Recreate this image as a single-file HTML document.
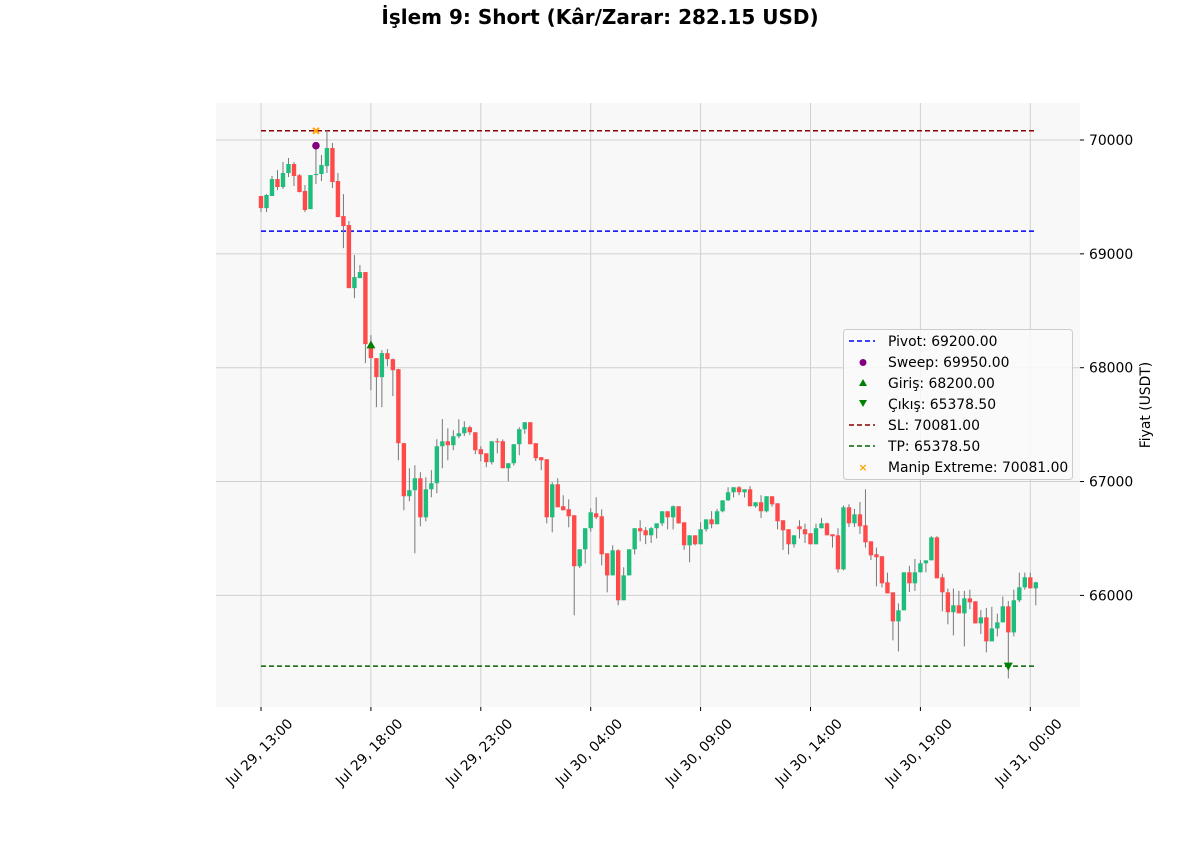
<!DOCTYPE html>
<html><head><meta charset="utf-8"><style>
html,body{margin:0;padding:0;background:#fff;}
svg{display:block;font-family:"DejaVu Sans","Liberation Sans",sans-serif;}
</style></head><body>
<svg id="chart" width="1200" height="862" xmlns="http://www.w3.org/2000/svg">
<text x="600" y="24" text-anchor="middle" font-size="20" font-weight="bold" fill="#000">İşlem 9: Short (Kâr/Zarar: 282.15 USD)</text>
<rect x="216" y="103" width="864" height="604" fill="#f8f8f8"/>
<g id="grid"></g><g id="levels"></g><g id="candles"></g><g id="markers"></g><g id="axes"></g>
<text transform="translate(1150,405) rotate(-90)" text-anchor="middle" font-size="13.9" fill="#000">Fiyat (USDT)</text>
<g>
<rect x="843.5" y="329.5" width="229" height="150" rx="3" fill="#fafafa" fill-opacity="0.85" stroke="#ccc"/>
<g font-size="13.9" fill="#000">
<line x1="849" y1="341" x2="875" y2="341" stroke="#0000ff" stroke-width="1.5" stroke-dasharray="5,3"/><text x="888" y="346">Pivot: 69200.00</text>
<circle cx="863" cy="362.5" r="3.5" fill="#800080"/><text x="888" y="367">Sweep: 69950.00</text>
<path d="M863,379 L867,386 L859,386 Z" fill="#008000"/><text x="888" y="388">Giriş: 68200.00</text>
<path d="M859,400 L867,400 L863,407 Z" fill="#008000"/><text x="888" y="409">Çıkış: 65378.50</text>
<line x1="849" y1="425" x2="875" y2="425" stroke="#8b0000" stroke-width="1.5" stroke-dasharray="5,3"/><text x="888" y="430">SL: 70081.00</text>
<line x1="849" y1="446" x2="875" y2="446" stroke="#006400" stroke-width="1.5" stroke-dasharray="5,3"/><text x="888" y="451">TP: 65378.50</text>
<text x="863" y="471" text-anchor="middle" font-size="11" fill="orange" font-weight="bold">×</text><text x="888" y="472">Manip Extreme: 70081.00</text>
</g></g>
</svg>
<script>
const opens=[69508,69402,69508,69657,69587,69710,69789,69690,69552,69393,69692,69701,69771,69930,69640,69332,69253,68699,68787,68840,68172,68084,67917,68128,68075,67987,67337,66871,66924,67029,66686,66932,66985,67310,67354,67319,67398,67424,67477,67433,67284,67248,67170,67354,67354,67117,67161,67328,67460,67521,67337,67214,67196,66686,66976,66783,66757,66704,66256,66405,66590,66721,66695,66370,66176,66396,65957,66176,66405,66590,66572,66528,66590,66633,66739,66686,66783,66642,66440,66528,66449,66581,66668,66625,66739,66835,66906,66950,66906,66932,66783,66818,66739,66871,66809,66660,66581,66449,66607,66581,66546,66449,66590,66633,66537,66528,66229,66774,66633,66712,66616,66475,66361,66344,66115,66027,65772,65869,66203,66106,66203,66282,66308,66510,66159,66027,65852,65913,65842,65974,65948,65754,65807,65596,65710,65763,65904,65675,65957,66071,66159,66062];
const closes=[69402,69517,69657,69587,69710,69789,69684,69543,69385,69692,69701,69780,69930,69631,69323,69244,68699,68796,68840,68207,68084,67917,68128,68075,67978,67337,66871,66924,67029,66686,66932,66985,67310,67354,67319,67398,67424,67477,67433,67275,67240,67170,67354,67345,67117,67161,67328,67460,67521,67328,67205,67187,66686,66976,66774,66748,66695,66256,66405,66590,66730,66686,66361,66176,66396,65957,66176,66405,66590,66563,66528,66590,66633,66739,66686,66783,66633,66440,66528,66449,66581,66668,66625,66739,66835,66906,66950,66906,66932,66783,66818,66739,66871,66800,66651,66572,66449,66528,66581,66537,66449,66590,66633,66528,66519,66229,66774,66633,66712,66607,66466,66352,66335,66106,66018,65772,65869,66203,66106,66203,66282,66308,66510,66150,66027,65852,65913,65842,65974,65939,65754,65807,65596,65710,65763,65904,65675,65957,66071,66159,66062,66115];
const highs=[69510,69525,69684,69736,69807,69842,69807,69700,69604,69692,69956,69868,70088,69974,69710,69525,69288,68989,68901,68840,68286,68084,68154,68163,68080,67990,67340,67117,67143,67082,67038,67100,67372,67548,67468,67451,67548,67530,67490,67433,67310,67248,67354,67380,67370,67161,67328,67477,67521,67521,67337,67214,67196,66994,67029,66880,66844,66704,66405,66590,66765,66862,66756,66370,66440,66405,66247,66405,66590,66660,66600,66600,66633,66739,66739,66790,66783,66642,66528,66528,66642,66668,66740,66760,66835,66950,66950,66960,66932,66960,66818,66880,66871,66871,66809,66660,66581,66528,66660,66630,66546,66630,66680,66640,66537,66590,66790,66800,66760,66820,66932,66475,66420,66344,66200,66027,65930,66203,66260,66320,66310,66308,66520,66520,66190,66060,66060,66040,66040,66050,65948,65870,65890,65900,65840,65990,65950,66050,66200,66200,66200,66120];
const lows=[69367,69367,69508,69560,69570,69675,69596,69540,69367,69393,69613,69640,69710,69578,69323,69050,68699,68611,68787,68040,67802,67653,67653,68013,67750,67187,66748,66827,66370,66607,66651,66862,66897,67117,67187,67275,67380,67400,67410,67240,67178,67126,67150,67248,67117,67003,67140,67231,67420,67328,67180,67100,66633,66554,66774,66748,66598,65825,66240,66280,66560,66670,66264,66027,66176,65913,65957,66176,66360,66475,66450,66460,66500,66610,66580,66580,66630,66400,66291,66440,66449,66560,66590,66625,66730,66830,66860,66880,66860,66783,66770,66680,66730,66780,66580,66400,66360,66420,66500,66460,66449,66449,66590,66528,66420,66200,66220,66600,66600,66540,66420,66310,66080,66070,66018,65605,65508,65869,66030,66040,66203,66203,66308,66150,65860,65746,65649,65842,65552,65880,65754,65660,65500,65600,65640,65763,65271,65640,65940,66050,66062,65913];
const tickLabels=["Jul 29, 13:00","Jul 29, 18:00","Jul 29, 23:00","Jul 30, 04:00","Jul 30, 09:00","Jul 30, 14:00","Jul 30, 19:00","Jul 31, 00:00"];
const tickIdx=[0,20,40,60,80,100,120,140];
const yTicks=[66000,67000,68000,69000,70000];
const pivot=69200, sweep=69950, entry=68200, exitP=65378.5, sl=70081, tp=65378.5, manip=70081;
const sweepIdx=10, entryIdx=20, exitIdx=136, manipIdx=10;

const NS="http://www.w3.org/2000/svg";
const X=i=>261+i*5.495;
const Y=p=>140+(70000-p)*0.11385;
function mk(parent,tag,attrs){const e=document.createElementNS(NS,tag);for(const k in attrs)e.setAttribute(k,attrs[k]);document.getElementById(parent).appendChild(e);return e;}

yTicks.forEach(v=>{
  const g=mk('grid','line',{x1:216,x2:1080,y1:Y(v),y2:Y(v),stroke:'#d0d0d0','stroke-width':1});
  
  
  const tk=mk('axes','line',{x1:1080,x2:1084,y1:Y(v),y2:Y(v),stroke:'#000'});
  
  
  const t=mk('axes','text',{x:1089,y:Y(v)+5,'font-size':13.9});
  t.textContent=v;
  
  
});
tickIdx.forEach((ix,k)=>{
  const x=X(ix);
  const g=mk('grid','line',{x1:x,x2:x,y1:103,y2:707,stroke:'#d0d0d0','stroke-width':1});
  
  
  const tk=mk('axes','line',{x1:x,x2:x,y1:707,y2:711,stroke:'#000'});
  
  
  const cx=x-2, cy=752;
  const t=mk('axes','text',{x:cx,y:cy+5,'font-size':13.9,'text-anchor':'middle',transform:`rotate(-45 ${cx} ${cy})`});
  t.textContent=tickLabels[k];
  
  
});
function level(v,color,name){
  const l=mk('levels','line',{x1:X(0),x2:X(closes.length-1),y1:Y(v),y2:Y(v),stroke:color,'stroke-width':1.5,'stroke-dasharray':'5,3'});
  
  
}
level(pivot,'#0000ff','pivot-line');
level(sl,'#8b0000','sl-line');
level(tp,'#006400','tp-line');
for(let i=0;i<closes.length;i++){
  const o=opens[i],c=closes[i],up=c>=o,x=X(i);
  const w=mk('candles','line',{x1:x,x2:x,y1:Y(highs[i]),y2:Y(lows[i]),stroke:'#777','stroke-width':1});
  
  
  const top=Y(Math.max(o,c)),h=Math.max(1,Math.abs(Y(o)-Y(c)));
  const b=mk('candles','rect',{x:x-2.2,y:top,width:4.4,height:h,fill:up?'#1fbd7b':'#ff4a4a'});
  
  
}
const sw=mk('markers','circle',{cx:X(sweepIdx),cy:Y(sweep),r:3.8,fill:'#800080'});


const ex=X(entryIdx),ey=Y(entry);
const en=mk('markers','path',{d:`M${ex},${ey-4.5} L${ex+4.5},${ey+3.5} L${ex-4.5},${ey+3.5} Z`,fill:'#008000'});


const xx=X(exitIdx),xy=Y(exitP);
const et=mk('markers','path',{d:`M${xx-4.5},${xy-3.5} L${xx+4.5},${xy-3.5} L${xx},${xy+4.5} Z`,fill:'#008000'});


const mx=X(manipIdx),my=Y(manip);
const mp=mk('markers','path',{d:`M${mx-3},${my-3} L${mx+3},${my+3} M${mx+3},${my-3} L${mx-3},${my+3}`,stroke:'orange','stroke-width':2});


</script>
</body></html>
